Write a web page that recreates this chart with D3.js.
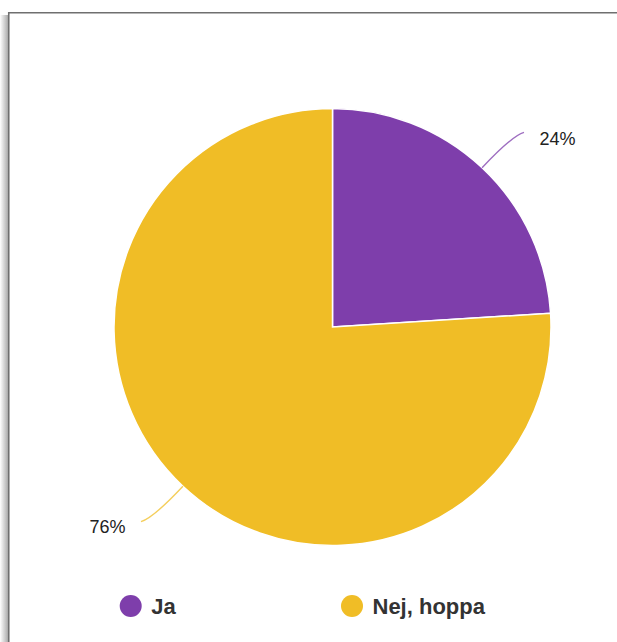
<!DOCTYPE html>
<html>
<meta charset=utf-8>
<head>
<script src="https://d3js.org/d3.v7.min.js"></script>
<style>
  body { margin: 0; background: #fff; overflow: hidden; }
  .pct { font: 18px "Liberation Sans", Arial, sans-serif; fill: #222; }
  .legend_text { font: bold 22px "Liberation Sans", Arial, sans-serif; fill: #333; }
</style>
</head>
<body>
<script>

// survey answers
var categories = ["Ja", "Nej, hoppa"];
var values = [24, 76];
var pct_labels = ["24%", "76%"];
var colors = ["#7e3eab", "#f0bd26"];

var W = 617, H = 642;
var cx = 332.5, cy = 327, R = 218.5;

var svg = d3.select('body')
            .append('svg')
            .attr("width", W)
            .attr("height", H);

// card edge + shadow on the left
var defs = svg.append("defs");
var grad = defs.append("linearGradient").attr("id", "shade").attr("x1", 0).attr("x2", 1).attr("y1", 0).attr("y2", 0);
grad.append("stop").attr("offset", "0%").attr("stop-color", "#000").attr("stop-opacity", 0);
grad.append("stop").attr("offset", "100%").attr("stop-color", "#000").attr("stop-opacity", 0.35);

svg.append("rect")
    .attr("x", 0).attr("y", 15)
    .attr("width", 8.5).attr("height", H - 15)
    .attr("fill", "url(#shade)");

svg.append("path")
    .attr("d", "M8.75," + H + " V12.75 H" + (W + 2))
    .attr("fill", "none")
    .attr("stroke", "#6f6f6f")
    .attr("stroke-width", 1.6);

// pie
var pie = d3.pie().sort(null).value(function(d){ return d; });
var arcs = pie(values);
var arc = d3.arc().innerRadius(0).outerRadius(R);

var g = svg.append("g").attr("transform", "translate(" + cx + "," + cy + ")");

g.selectAll(".slice")
  .data(arcs)
  .enter()
  .append("path")
  .attr("class", "slice")
  .attr("d", arc)
  .attr("fill", function(d, i){ return colors[i]; })
  .attr("stroke", "#fff")
  .attr("stroke-width", 1.5);

// leader lines + percent labels
function leader(d) {
  var a = (d.startAngle + d.endAngle) / 2;
  var sx = Math.sin(a), sy = -Math.cos(a);
  var p0 = [sx * R, sy * R];
  var p1 = [sx * R * 1.2, sy * R * 1.2];
  var side = sx >= 0 ? 1 : -1;
  var p2 = [p1[0] + side * 12, p1[1] + (p1[1] - p0[1]) * 0.11];
  return { p0: p0, p1: p1, p2: p2, side: side };
}

g.selectAll(".lead")
  .data(arcs)
  .enter()
  .append("path")
  .attr("class", "lead")
  .attr("d", function(d){
    var L = leader(d);
    return "M" + L.p0 + " Q" + L.p1 + " " + L.p2;
  })
  .attr("fill", "none")
  .attr("stroke", function(d, i){ return colors[i]; })
  .attr("stroke-opacity", 0.75)
  .attr("stroke-width", 1.4);

g.selectAll(".pct")
  .data(arcs)
  .enter()
  .append("text")
  .attr("class", "pct")
  .attr("x", function(d){ var L = leader(d); return L.p2[0] + L.side * 15.5; })
  .attr("y", function(d){ var L = leader(d); return L.p2[1] + (L.side > 0 ? 12.5 : 11); })
  .attr("text-anchor", function(d){ return leader(d).side > 0 ? "start" : "end"; })
  .text(function(d, i){ return pct_labels[i]; });

// legend
var lx = d3.scaleOrdinal().domain(categories).range([130.7, 352]);

var leg = svg.selectAll(".legend")
  .data(categories)
  .enter()
  .append("g")
  .attr("class", "legend")
  .attr("transform", function(d){ return "translate(" + lx(d) + ",606)"; });

leg.append("circle")
   .attr("r", 11)
   .attr("fill", function(d, i){ return colors[i]; });

leg.append("text")
   .attr("class", "legend_text")
   .attr("x", 20.5)
   .attr("y", 8.3)
   .text(function(d){ return d; });

</script>
</body>
</html>
